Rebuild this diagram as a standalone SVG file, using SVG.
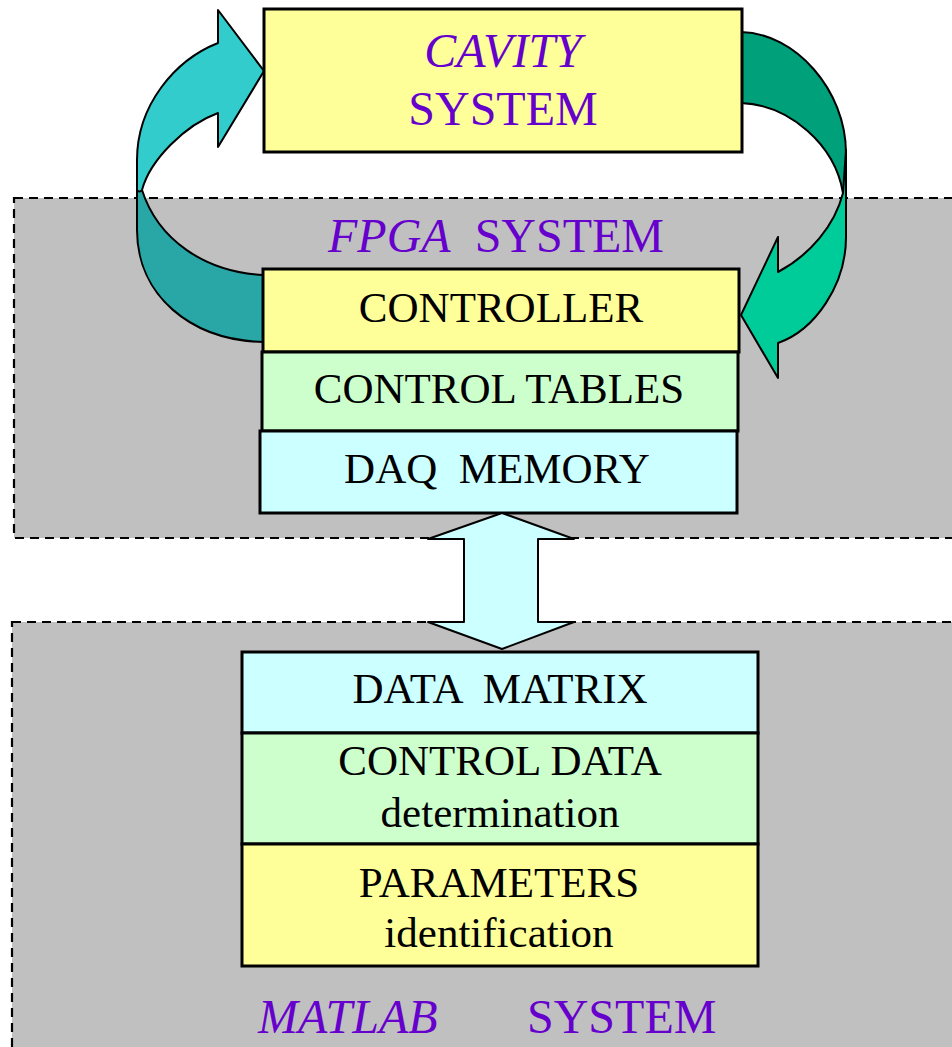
<svg xmlns="http://www.w3.org/2000/svg" width="952" height="1047" viewBox="0 0 952 1047">
<style>
.sys{fill:#C0C0C0;stroke:#000;stroke-width:2.2;stroke-dasharray:9 6}
.box{stroke:#000;stroke-width:3}
.y{fill:#FFFF99}.g{fill:#CCFFCC}.c{fill:#CCFFFF}
.arr{stroke:#000;stroke-width:2;stroke-linejoin:round}
.t{font-family:"Liberation Serif","Times New Roman",serif;font-size:43px;fill:#000;text-anchor:middle}
.p{font-family:"Liberation Serif","Times New Roman",serif;font-size:48px;fill:#6600CC}
.i{font-style:italic}
</style>
<rect width="952" height="1047" fill="#fff"/>
<g id="fpga-system">
<rect class="sys" x="14" y="198" width="960" height="340"/>
<text class="p" xml:space="preserve" x="328" y="252"><tspan class="i">FPGA</tspan>  SYSTEM</text>
</g>
<g id="matlab-system">
<rect class="sys" x="12" y="622" width="960" height="460"/>
<text class="p" x="258" y="1033"><tspan class="i">MATLAB</tspan></text>
<text class="p" x="527" y="1033">SYSTEM</text>
</g>
<g id="connectors">
<path class="arr" fill="#29A6A6" d="M137,180 L137,230 C137,295 190,340 263,342 L263,275 C205,272 158,240 142,190 Z"/>
<path class="arr" fill="#33CCCC" d="M218,113 L218,147 L264,71 L218,10 L218,43 C175,60 137,105 137,160 L137,190 C138,192 141,192 142,190 C150,160 185,125 218,113 Z"/>
<path class="arr" fill="#00A07A" d="M741,32 C795,33 846,90 846,153 L846,200 C845,202 844,198 843,193 C835,145 790,105 741,103 Z"/>
<path class="arr" fill="#00CC99" d="M846,150 L846,237 C846,285 815,330 778,343 L778,378 L741,315 L778,237 L778,272 C810,255 835,225 843,193 Z"/>
</g>
<g id="cavity">
<rect class="box y" x="264" y="9" width="478" height="143"/>
<text class="p i" x="503" y="67" text-anchor="middle">CAVITY</text>
<text class="p" x="503" y="125" text-anchor="middle">SYSTEM</text>
</g>
<g id="controller">
<rect class="box y" x="263" y="269" width="476" height="83"/>
<text class="t" x="501" y="322">CONTROLLER</text>
</g>
<g id="control-tables">
<rect class="box g" x="262" y="352" width="476" height="79"/>
<text class="t" x="499" y="403">CONTROL TABLES</text>
</g>
<g id="daq-memory">
<rect class="box c" x="260" y="431" width="477" height="82"/>
<text class="t" xml:space="preserve" x="497" y="483">DAQ  MEMORY</text>
</g>
<g id="data-matrix">
<rect class="box c" x="242" y="652" width="516" height="81"/>
<text class="t" xml:space="preserve" x="500" y="703">DATA  MATRIX</text>
</g>
<g id="control-data">
<rect class="box g" x="242" y="733" width="516" height="111"/>
<text class="t" x="500" y="775">CONTROL DATA</text>
<text class="t" x="500" y="827">determination</text>
</g>
<g id="parameters">
<rect class="box y" x="242" y="844" width="516" height="122"/>
<text class="t" x="499" y="897">PARAMETERS</text>
<text class="t" x="499" y="947">identification</text>
</g>
<g id="double-arrow">
<path class="arr c" d="M502,513 L574,539 L538,539 L538,622 L574,622 L502,649 L428,622 L464,622 L464,539 L428,539 Z"/>
</g>
</svg>
